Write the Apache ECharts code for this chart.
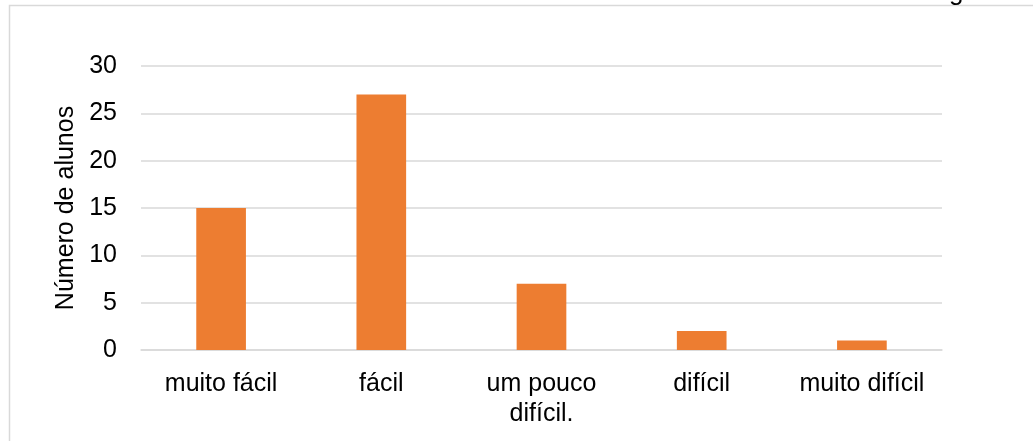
<!DOCTYPE html>
<html>
<head>
<meta charset="utf-8">
<script src="https://cdn.jsdelivr.net/npm/echarts@6/dist/echarts.min.js"></script>
<style>
  html, body { margin: 0; padding: 0; background: #fff; }
  #chart { width: 1033px; height: 441px; }
</style>
</head>
<body>
<div id="chart"></div>
<script>
// Difficulty ratings and number of students per rating
const categories = ['muito fácil', 'fácil', 'um pouco\ndifícil.', 'difícil', 'muito difícil'];
const alunos = [15, 27, 7, 2, 1];
const yTicks = [0, 5, 10, 15, 20, 25, 30];
const yAxisTitle = 'Número de alunos';

const FONT = '"Liberation Sans", Arial, sans-serif';
const chart = echarts.init(document.getElementById('chart'));

chart.setOption({
  animation: false,
  backgroundColor: '#ffffff',
  textStyle: { fontFamily: FONT },
  grid: { left: 141, right: 91, top: 66, bottom: 91, containLabel: false },
  graphic: [
    {
      type: 'rect',
      shape: { x: 9.5, y: 5.5, width: 1100, height: 500 },
      style: { fill: 'none', stroke: '#d9d9d9', lineWidth: 1.5 },
      silent: true
    },
    {
      type: 'text',
      left: 949,
      top: -20,
      style: { text: 'g', font: '26px ' + FONT, fill: '#000' },
      silent: true
    }
  ],
  xAxis: {
    type: 'category',
    data: categories,
    axisLine: { show: true, lineStyle: { color: '#d9d9d9', width: 1.5 } },
    axisTick: { show: false },
    axisLabel: {
      color: '#000',
      fontSize: 25,
      fontFamily: FONT,
      margin: 19,
      lineHeight: 30,
      interval: 0
    }
  },
  yAxis: {
    type: 'value',
    min: yTicks[0],
    max: yTicks[yTicks.length - 1],
    interval: 5,
    name: yAxisTitle,
    nameLocation: 'middle',
    nameRotate: 90,
    nameGap: 62,
    nameTextStyle: { color: '#000', fontSize: 25, fontFamily: FONT },
    axisLine: { show: false },
    axisTick: { show: false },
    axisLabel: { color: '#000', fontSize: 25, fontFamily: FONT, margin: 24 },
    splitLine: { lineStyle: { color: '#d9d9d9', width: 1.5 } }
  },
  series: [{
    type: 'bar',
    data: alunos,
    barWidth: '31%',
    itemStyle: { color: '#ed7d31' }
  }]
});
</script>
</body>
</html>
